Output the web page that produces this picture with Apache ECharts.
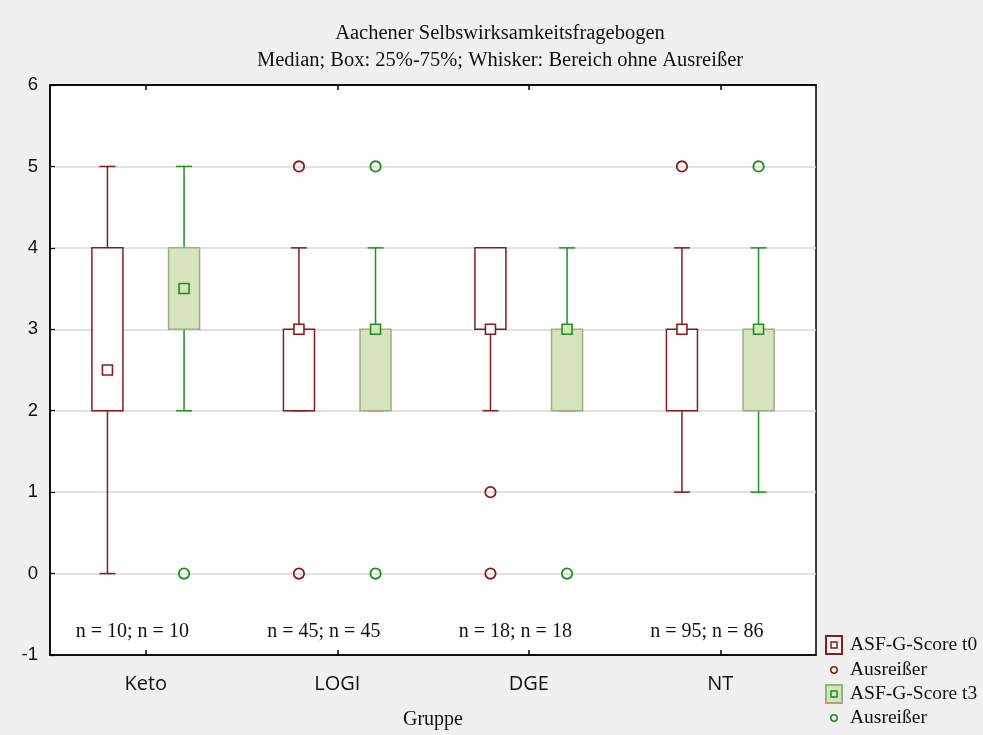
<!DOCTYPE html>
<html>
<head>
<meta charset="utf-8">
<title>Aachener Selbswirksamkeitsfragebogen</title>
<script src="https://cdn.jsdelivr.net/npm/echarts@6/dist/echarts.min.js"></script>
<style>
  html, body { margin: 0; padding: 0; background: #f0f0f0; }
  #chart { width: 983px; height: 735px; }
</style>
</head>
<body>
<div id="chart"></div>
<script>
// Groups on the x axis
const categories = ['Keto', 'LOGI', 'DGE', 'NT'];

// Box summaries per group: [whisker low, 25%, median, 75%, whisker high]
const statsT0 = [
  [0, 2, 2.5, 4, 5],
  [2, 2, 3, 3, 4],
  [2, 3, 3, 4, 4],
  [1, 2, 3, 3, 4]
];
const statsT3 = [
  [2, 3, 3.5, 4, 5],
  [2, 2, 3, 3, 4],
  [2, 2, 3, 3, 4],
  [1, 2, 3, 3, 4]
];

// Outliers: [group index, value]
const outliersT0 = [[1, 5], [1, 0], [2, 1], [2, 0], [3, 5]];
const outliersT3 = [[0, 0], [1, 5], [1, 0], [2, 0], [3, 5]];

// Sample sizes written under each group
const nLabels = ['n = 10; n = 10', 'n = 45; n = 45', 'n = 18; n = 18', 'n = 95; n = 86'];

// Value axis range
const yMin = -1, yMax = 6, yStep = 1;
const nLabelLevel = -0.72;

const RED = '#8c1a1a';
const GREEN = '#1f8f1f';
const BOX_FILL_T3 = '#d7e3bd';
const BOX_EDGE_T3 = '#9dad84';
const SERIF = '"Liberation Serif", "Times New Roman", serif';
const SANS = '"Liberation Sans", Arial, sans-serif';

function boxRenderer(side, color, edgeColor, fill) {
  return function (params, api) {
    const idx = api.value(0);
    const bw = api.size([1, 0])[0];
    const base = api.coord([idx, 0]);
    const cx = base[0] + side * 0.2 * bw;
    const y = (k) => api.coord([idx, api.value(k)])[1];
    const yLo = y(1), yQ1 = y(2), yMed = y(3), yQ3 = y(4), yHi = y(5);
    const half = 0.081 * bw;
    const cap = 8;
    const line = { stroke: color, lineWidth: 1.5 };
    const children = [];
    if (yHi < yQ3) children.push({ type: 'line', shape: { x1: cx, y1: yHi, x2: cx, y2: yQ3 }, style: line });
    if (yLo > yQ1) children.push({ type: 'line', shape: { x1: cx, y1: yQ1, x2: cx, y2: yLo }, style: line });
    children.push({ type: 'line', shape: { x1: cx - cap, y1: yHi, x2: cx + cap, y2: yHi }, style: line });
    children.push({ type: 'line', shape: { x1: cx - cap, y1: yLo, x2: cx + cap, y2: yLo }, style: line });
    children.push({
      type: 'rect',
      shape: { x: cx - half, y: yQ3, width: 2 * half, height: yQ1 - yQ3 },
      style: { fill: fill, stroke: edgeColor, lineWidth: 1.5 }
    });
    children.push({
      type: 'rect',
      shape: { x: cx - 5, y: yMed - 5, width: 10, height: 10 },
      style: { fill: fill, stroke: color, lineWidth: 1.6 }
    });
    return { type: 'group', children: children };
  };
}

function outlierRenderer(side, color) {
  return function (params, api) {
    const idx = api.value(0);
    const bw = api.size([1, 0])[0];
    const p = api.coord([idx, api.value(1)]);
    return {
      type: 'circle',
      shape: { cx: p[0] + side * 0.2 * bw, cy: p[1], r: 5.2 },
      style: { fill: 'none', stroke: color, lineWidth: 1.8 }
    };
  };
}

function nLabelRenderer(params, api) {
  const idx = api.value(0);
  const bw = api.size([1, 0])[0];
  const p = api.coord([idx, nLabelLevel]);
  return {
    type: 'text',
    x: p[0] - 0.07 * bw,
    y: p[1],
    style: {
      text: nLabels[idx],
      font: '20px ' + SERIF,
      fill: '#111',
      align: 'center',
      verticalAlign: 'middle'
    }
  };
}

const chart = echarts.init(document.getElementById('chart'), null, { renderer: 'canvas' });

// Legend drawn as graphics (two outlier entries share one name)
const lx = 834, rows = [645, 670, 694, 718];
const legendText = ['ASF-G-Score t0', 'Ausreißer', 'ASF-G-Score t3', 'Ausreißer'];
const legendGraphics = [
  { type: 'rect', shape: { x: lx - 8, y: rows[0] - 9, width: 16, height: 18 }, style: { fill: '#f7f7f7', stroke: RED, lineWidth: 2 } },
  { type: 'rect', shape: { x: lx - 3, y: rows[0] - 3, width: 6, height: 6 }, style: { fill: 'none', stroke: RED, lineWidth: 1.5 } },
  { type: 'circle', shape: { cx: lx, cy: rows[1], r: 3.2 }, style: { fill: 'none', stroke: RED, lineWidth: 1.5 } },
  { type: 'rect', shape: { x: lx - 8, y: rows[2] - 9, width: 16, height: 18 }, style: { fill: BOX_FILL_T3, stroke: BOX_EDGE_T3, lineWidth: 2 } },
  { type: 'rect', shape: { x: lx - 3, y: rows[2] - 3, width: 6, height: 6 }, style: { fill: 'none', stroke: GREEN, lineWidth: 1.5 } },
  { type: 'circle', shape: { cx: lx, cy: rows[3], r: 3.2 }, style: { fill: 'none', stroke: GREEN, lineWidth: 1.5 } }
];
legendText.forEach((t, i) => {
  legendGraphics.push({
    type: 'text', x: 850, y: rows[i],
    style: { text: t, font: '19.5px ' + SERIF, fill: '#111', verticalAlign: 'middle', align: 'left' }
  });
});

chart.setOption({
  backgroundColor: '#f0f0f0',
  animation: false,
  title: {
    text: 'Aachener Selbswirksamkeitsfragebogen\nMedian; Box: 25%-75%; Whisker: Bereich ohne Ausreißer',
    left: 500,
    top: 20,
    padding: 0,
    textAlign: 'center',
    textStyle: { fontFamily: SERIF, fontSize: 20.5, fontWeight: 'normal', color: '#111', lineHeight: 27 }
  },
  grid: {
    left: 50, right: 167, top: 85, bottom: 80,
    outerBoundsMode: 'none',
    containLabel: false,
    show: true, backgroundColor: '#ffffff', borderColor: '#000', borderWidth: 1.5
  },
  xAxis: [
    {
      type: 'category',
      data: categories,
      position: 'bottom',
      boundaryGap: true,
      axisLine: { show: true, onZero: false, lineStyle: { color: '#000', width: 1.5 } },
      axisTick: { show: true, inside: true, alignWithLabel: true, length: 5, lineStyle: { color: '#000', width: 1.5 } },
      axisLabel: { margin: 19, fontFamily: '"Open Sans", sans-serif', fontSize: 20, color: '#111' },
      splitLine: { show: false },
      name: 'Gruppe',
      nameLocation: 'middle',
      nameGap: 55,
      nameTextStyle: { fontFamily: SERIF, fontSize: 20, color: '#111' }
    },
    {
      type: 'category',
      data: categories,
      position: 'top',
      boundaryGap: true,
      axisLine: { show: true, onZero: false, lineStyle: { color: '#000', width: 1.5 } },
      axisTick: { show: true, inside: true, alignWithLabel: true, length: 5, lineStyle: { color: '#000', width: 1.5 } },
      axisLabel: { show: false },
      splitLine: { show: false }
    }
  ],
  yAxis: {
    type: 'value',
    min: yMin, max: yMax, interval: yStep,
    axisLine: { show: true, lineStyle: { color: '#000', width: 1.5 } },
    axisTick: { show: true, inside: true, length: 5, lineStyle: { color: '#000', width: 1.2 } },
    axisLabel: { margin: 12, fontFamily: SANS, fontSize: 18.5, color: '#111' },
    splitLine: { show: true, showMinLine: false, showMaxLine: false, lineStyle: { color: '#d9d9d9', width: 1.5 } }
  },
  graphic: legendGraphics,
  series: [
    {
      name: 'ASF-G-Score t0',
      type: 'custom',
      renderItem: boxRenderer(-1, RED, RED, '#ffffff'),
      data: statsT0.map((s, i) => [i].concat(s)),
      encode: { x: 0, y: [1, 2, 3, 4, 5] },
      z: 3
    },
    {
      name: 'ASF-G-Score t3',
      type: 'custom',
      renderItem: boxRenderer(1, GREEN, BOX_EDGE_T3, BOX_FILL_T3),
      data: statsT3.map((s, i) => [i].concat(s)),
      encode: { x: 0, y: [1, 2, 3, 4, 5] },
      z: 3
    },
    {
      name: 'Ausreißer t0',
      type: 'custom',
      renderItem: outlierRenderer(-1, RED),
      data: outliersT0,
      encode: { x: 0, y: 1 },
      z: 4
    },
    {
      name: 'Ausreißer t3',
      type: 'custom',
      renderItem: outlierRenderer(1, GREEN),
      data: outliersT3,
      encode: { x: 0, y: 1 },
      z: 4
    },
    {
      name: 'n',
      type: 'custom',
      renderItem: nLabelRenderer,
      data: nLabels.map((_, i) => [i]),
      encode: { x: 0 },
      z: 4
    }
  ]
});
</script>
</body>
</html>
